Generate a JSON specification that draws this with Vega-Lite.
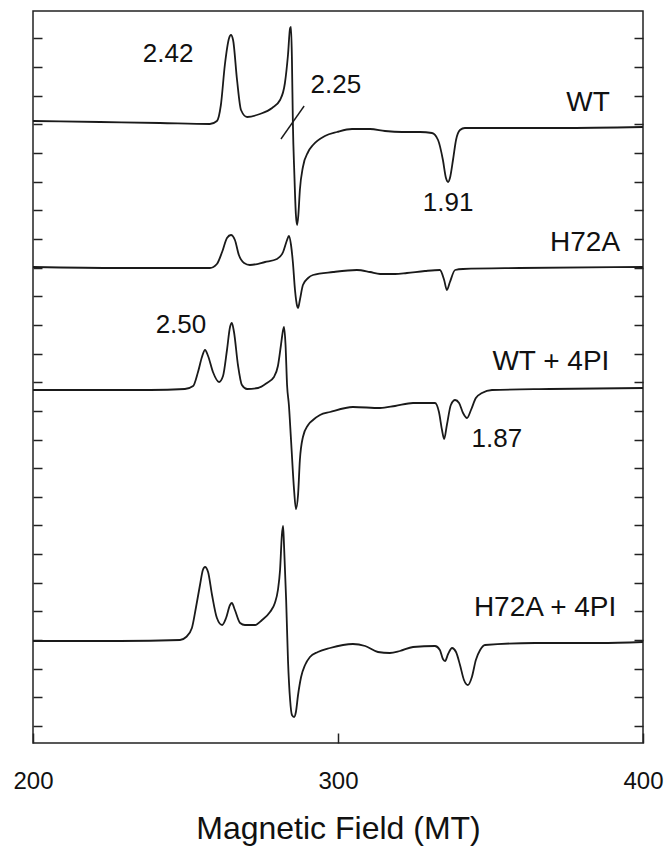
{
  "$schema": "https://vega.github.io/schema/vega-lite/v6.json",
  "width": 610,
  "height": 732,
  "autosize": {"type": "none"},
  "padding": {"left": 33, "top": 11, "right": 27, "bottom": 107},
  "background": "white",
  "config": {
    "view": {"stroke": "#222222", "strokeWidth": 1.5},
    "font": "Liberation Sans",
    "axis": {"grid": false, "domain": false, "tickColor": "#222222", "tickWidth": 1.5}
  },
  "datasets": {
    "spectra": [
      {"sample": "WT", "field": 200, "signal": 622},
      {"sample": "WT", "field": 222, "signal": 621},
      {"sample": "WT", "field": 241.6, "signal": 620},
      {"sample": "WT", "field": 258.0, "signal": 619},
      {"sample": "WT", "field": 260.3, "signal": 622},
      {"sample": "WT", "field": 261.6, "signal": 638},
      {"sample": "WT", "field": 262.9, "signal": 678},
      {"sample": "WT", "field": 264.3, "signal": 705},
      {"sample": "WT", "field": 264.9, "signal": 708},
      {"sample": "WT", "field": 265.6, "signal": 703},
      {"sample": "WT", "field": 266.9, "signal": 663},
      {"sample": "WT", "field": 268.2, "signal": 633},
      {"sample": "WT", "field": 270.2, "signal": 626},
      {"sample": "WT", "field": 274.4, "signal": 629},
      {"sample": "WT", "field": 278.4, "signal": 635},
      {"sample": "WT", "field": 281.0, "signal": 643},
      {"sample": "WT", "field": 282.6, "signal": 660},
      {"sample": "WT", "field": 283.6, "signal": 688},
      {"sample": "WT", "field": 284.3, "signal": 715},
      {"sample": "WT", "field": 284.6, "signal": 716},
      {"sample": "WT", "field": 284.9, "signal": 683},
      {"sample": "WT", "field": 285.2, "signal": 621},
      {"sample": "WT", "field": 285.7, "signal": 568},
      {"sample": "WT", "field": 286.2, "signal": 528},
      {"sample": "WT", "field": 286.6, "signal": 518},
      {"sample": "WT", "field": 287.0, "signal": 528},
      {"sample": "WT", "field": 287.5, "signal": 553},
      {"sample": "WT", "field": 288.5, "signal": 576},
      {"sample": "WT", "field": 290.2, "signal": 591},
      {"sample": "WT", "field": 291.8, "signal": 598},
      {"sample": "WT", "field": 295.7, "signal": 607},
      {"sample": "WT", "field": 299.7, "signal": 611},
      {"sample": "WT", "field": 304.6, "signal": 614},
      {"sample": "WT", "field": 310.5, "signal": 614},
      {"sample": "WT", "field": 315.4, "signal": 612},
      {"sample": "WT", "field": 321.0, "signal": 611},
      {"sample": "WT", "field": 326.9, "signal": 611},
      {"sample": "WT", "field": 330.8, "signal": 610},
      {"sample": "WT", "field": 332.8, "signal": 603},
      {"sample": "WT", "field": 334.4, "signal": 583},
      {"sample": "WT", "field": 335.4, "signal": 565},
      {"sample": "WT", "field": 336.1, "signal": 561},
      {"sample": "WT", "field": 336.7, "signal": 565},
      {"sample": "WT", "field": 337.7, "signal": 583},
      {"sample": "WT", "field": 338.7, "signal": 603},
      {"sample": "WT", "field": 340.0, "signal": 613},
      {"sample": "WT", "field": 341.6, "signal": 615},
      {"sample": "WT", "field": 353.8, "signal": 615},
      {"sample": "WT", "field": 372.8, "signal": 615},
      {"sample": "WT", "field": 400, "signal": 616},

      {"sample": "H72A", "field": 200, "signal": 476},
      {"sample": "H72A", "field": 228.5, "signal": 475},
      {"sample": "H72A", "field": 258.0, "signal": 475},
      {"sample": "H72A", "field": 260.3, "signal": 479},
      {"sample": "H72A", "field": 262.0, "signal": 491},
      {"sample": "H72A", "field": 263.6, "signal": 505},
      {"sample": "H72A", "field": 264.9, "signal": 508},
      {"sample": "H72A", "field": 266.2, "signal": 503},
      {"sample": "H72A", "field": 267.5, "signal": 488},
      {"sample": "H72A", "field": 269.2, "signal": 480},
      {"sample": "H72A", "field": 271.1, "signal": 478},
      {"sample": "H72A", "field": 276.1, "signal": 481},
      {"sample": "H72A", "field": 280.0, "signal": 484},
      {"sample": "H72A", "field": 282.0, "signal": 491},
      {"sample": "H72A", "field": 283.3, "signal": 503},
      {"sample": "H72A", "field": 283.9, "signal": 507},
      {"sample": "H72A", "field": 284.6, "signal": 498},
      {"sample": "H72A", "field": 285.2, "signal": 481},
      {"sample": "H72A", "field": 285.9, "signal": 453},
      {"sample": "H72A", "field": 286.6, "signal": 437},
      {"sample": "H72A", "field": 286.9, "signal": 435},
      {"sample": "H72A", "field": 287.5, "signal": 443},
      {"sample": "H72A", "field": 288.5, "signal": 458},
      {"sample": "H72A", "field": 290.2, "signal": 465},
      {"sample": "H72A", "field": 291.8, "signal": 468},
      {"sample": "H72A", "field": 298.4, "signal": 471},
      {"sample": "H72A", "field": 306.2, "signal": 473},
      {"sample": "H72A", "field": 310.5, "signal": 471},
      {"sample": "H72A", "field": 313.8, "signal": 469},
      {"sample": "H72A", "field": 318.7, "signal": 469},
      {"sample": "H72A", "field": 322.6, "signal": 470},
      {"sample": "H72A", "field": 328.5, "signal": 472},
      {"sample": "H72A", "field": 333.4, "signal": 473},
      {"sample": "H72A", "field": 334.8, "signal": 463},
      {"sample": "H72A", "field": 335.7, "signal": 453},
      {"sample": "H72A", "field": 336.7, "signal": 461},
      {"sample": "H72A", "field": 338.4, "signal": 473},
      {"sample": "H72A", "field": 341.0, "signal": 474},
      {"sample": "H72A", "field": 359.7, "signal": 475},
      {"sample": "H72A", "field": 400, "signal": 476},

      {"sample": "WT + 4PI", "field": 200, "signal": 353},
      {"sample": "WT + 4PI", "field": 238.4, "signal": 353},
      {"sample": "WT + 4PI", "field": 249.8, "signal": 354},
      {"sample": "WT + 4PI", "field": 252.5, "signal": 357},
      {"sample": "WT + 4PI", "field": 254.1, "signal": 371},
      {"sample": "WT + 4PI", "field": 255.4, "signal": 386},
      {"sample": "WT + 4PI", "field": 256.4, "signal": 393},
      {"sample": "WT + 4PI", "field": 257.4, "signal": 387},
      {"sample": "WT + 4PI", "field": 259.0, "signal": 371},
      {"sample": "WT + 4PI", "field": 261.0, "signal": 361},
      {"sample": "WT + 4PI", "field": 262.3, "signal": 367},
      {"sample": "WT + 4PI", "field": 263.6, "signal": 393},
      {"sample": "WT + 4PI", "field": 264.6, "signal": 416},
      {"sample": "WT + 4PI", "field": 265.2, "signal": 420},
      {"sample": "WT + 4PI", "field": 265.9, "signal": 411},
      {"sample": "WT + 4PI", "field": 267.2, "signal": 378},
      {"sample": "WT + 4PI", "field": 268.5, "signal": 358},
      {"sample": "WT + 4PI", "field": 270.2, "signal": 354},
      {"sample": "WT + 4PI", "field": 273.8, "signal": 355},
      {"sample": "WT + 4PI", "field": 276.7, "signal": 360},
      {"sample": "WT + 4PI", "field": 279.0, "signal": 366},
      {"sample": "WT + 4PI", "field": 280.3, "signal": 377},
      {"sample": "WT + 4PI", "field": 281.3, "signal": 398},
      {"sample": "WT + 4PI", "field": 282.0, "signal": 413},
      {"sample": "WT + 4PI", "field": 282.3, "signal": 416},
      {"sample": "WT + 4PI", "field": 282.8, "signal": 398},
      {"sample": "WT + 4PI", "field": 283.3, "signal": 358},
      {"sample": "WT + 4PI", "field": 283.9, "signal": 338},
      {"sample": "WT + 4PI", "field": 284.6, "signal": 303},
      {"sample": "WT + 4PI", "field": 285.6, "signal": 253},
      {"sample": "WT + 4PI", "field": 286.2, "signal": 234},
      {"sample": "WT + 4PI", "field": 286.9, "signal": 248},
      {"sample": "WT + 4PI", "field": 287.5, "signal": 283},
      {"sample": "WT + 4PI", "field": 288.5, "signal": 306},
      {"sample": "WT + 4PI", "field": 290.2, "signal": 318},
      {"sample": "WT + 4PI", "field": 291.8, "signal": 323},
      {"sample": "WT + 4PI", "field": 294.1, "signal": 328},
      {"sample": "WT + 4PI", "field": 297.4, "signal": 331},
      {"sample": "WT + 4PI", "field": 304.9, "signal": 336},
      {"sample": "WT + 4PI", "field": 313.8, "signal": 335},
      {"sample": "WT + 4PI", "field": 318.7, "signal": 337},
      {"sample": "WT + 4PI", "field": 324.6, "signal": 340},
      {"sample": "WT + 4PI", "field": 331.8, "signal": 340},
      {"sample": "WT + 4PI", "field": 333.1, "signal": 331},
      {"sample": "WT + 4PI", "field": 334.1, "signal": 313},
      {"sample": "WT + 4PI", "field": 334.8, "signal": 304},
      {"sample": "WT + 4PI", "field": 335.7, "signal": 318},
      {"sample": "WT + 4PI", "field": 337.0, "signal": 338},
      {"sample": "WT + 4PI", "field": 338.4, "signal": 343},
      {"sample": "WT + 4PI", "field": 339.7, "signal": 340},
      {"sample": "WT + 4PI", "field": 341.0, "signal": 330},
      {"sample": "WT + 4PI", "field": 342.3, "signal": 325},
      {"sample": "WT + 4PI", "field": 343.6, "signal": 333},
      {"sample": "WT + 4PI", "field": 345.2, "signal": 345},
      {"sample": "WT + 4PI", "field": 347.2, "signal": 350},
      {"sample": "WT + 4PI", "field": 350.5, "signal": 353},
      {"sample": "WT + 4PI", "field": 369.5, "signal": 354},
      {"sample": "WT + 4PI", "field": 400, "signal": 355},

      {"sample": "H72A + 4PI", "field": 200, "signal": 102},
      {"sample": "H72A + 4PI", "field": 228.5, "signal": 102},
      {"sample": "H72A + 4PI", "field": 248.2, "signal": 103},
      {"sample": "H72A + 4PI", "field": 250.2, "signal": 106},
      {"sample": "H72A + 4PI", "field": 252.1, "signal": 115},
      {"sample": "H72A + 4PI", "field": 253.4, "signal": 135},
      {"sample": "H72A + 4PI", "field": 254.75, "signal": 158},
      {"sample": "H72A + 4PI", "field": 255.7, "signal": 173},
      {"sample": "H72A + 4PI", "field": 256.4, "signal": 176},
      {"sample": "H72A + 4PI", "field": 257.4, "signal": 171},
      {"sample": "H72A + 4PI", "field": 258.7, "signal": 148},
      {"sample": "H72A + 4PI", "field": 260.3, "signal": 125},
      {"sample": "H72A + 4PI", "field": 262.0, "signal": 118},
      {"sample": "H72A + 4PI", "field": 263.3, "signal": 125},
      {"sample": "H72A + 4PI", "field": 264.6, "signal": 138},
      {"sample": "H72A + 4PI", "field": 265.2, "signal": 140},
      {"sample": "H72A + 4PI", "field": 266.2, "signal": 133},
      {"sample": "H72A + 4PI", "field": 267.9, "signal": 120},
      {"sample": "H72A + 4PI", "field": 269.5, "signal": 118},
      {"sample": "H72A + 4PI", "field": 272.8, "signal": 118},
      {"sample": "H72A + 4PI", "field": 275.1, "signal": 123},
      {"sample": "H72A + 4PI", "field": 277.7, "signal": 131},
      {"sample": "H72A + 4PI", "field": 279.3, "signal": 140},
      {"sample": "H72A + 4PI", "field": 280.3, "signal": 153},
      {"sample": "H72A + 4PI", "field": 281.0, "signal": 173},
      {"sample": "H72A + 4PI", "field": 281.6, "signal": 208},
      {"sample": "H72A + 4PI", "field": 282.0, "signal": 217},
      {"sample": "H72A + 4PI", "field": 282.3, "signal": 198},
      {"sample": "H72A + 4PI", "field": 283.0, "signal": 143},
      {"sample": "H72A + 4PI", "field": 283.6, "signal": 83},
      {"sample": "H72A + 4PI", "field": 284.3, "signal": 43},
      {"sample": "H72A + 4PI", "field": 284.9, "signal": 28},
      {"sample": "H72A + 4PI", "field": 285.6, "signal": 26},
      {"sample": "H72A + 4PI", "field": 286.2, "signal": 31},
      {"sample": "H72A + 4PI", "field": 286.9, "signal": 48},
      {"sample": "H72A + 4PI", "field": 287.9, "signal": 66},
      {"sample": "H72A + 4PI", "field": 289.2, "signal": 78},
      {"sample": "H72A + 4PI", "field": 290.8, "signal": 86},
      {"sample": "H72A + 4PI", "field": 293.4, "signal": 91},
      {"sample": "H72A + 4PI", "field": 297.4, "signal": 95},
      {"sample": "H72A + 4PI", "field": 304.9, "signal": 99},
      {"sample": "H72A + 4PI", "field": 308.9, "signal": 97},
      {"sample": "H72A + 4PI", "field": 313.1, "signal": 91},
      {"sample": "H72A + 4PI", "field": 317.0, "signal": 90},
      {"sample": "H72A + 4PI", "field": 320.3, "signal": 92},
      {"sample": "H72A + 4PI", "field": 324.6, "signal": 96},
      {"sample": "H72A + 4PI", "field": 331.8, "signal": 97},
      {"sample": "H72A + 4PI", "field": 333.4, "signal": 93},
      {"sample": "H72A + 4PI", "field": 334.4, "signal": 84},
      {"sample": "H72A + 4PI", "field": 335.1, "signal": 82},
      {"sample": "H72A + 4PI", "field": 336.1, "signal": 89},
      {"sample": "H72A + 4PI", "field": 337.4, "signal": 95},
      {"sample": "H72A + 4PI", "field": 338.7, "signal": 91},
      {"sample": "H72A + 4PI", "field": 340.0, "signal": 78},
      {"sample": "H72A + 4PI", "field": 341.3, "signal": 63},
      {"sample": "H72A + 4PI", "field": 342.6, "signal": 58},
      {"sample": "H72A + 4PI", "field": 343.9, "signal": 66},
      {"sample": "H72A + 4PI", "field": 345.2, "signal": 83},
      {"sample": "H72A + 4PI", "field": 346.6, "signal": 93},
      {"sample": "H72A + 4PI", "field": 348.2, "signal": 98},
      {"sample": "H72A + 4PI", "field": 364.6, "signal": 100},
      {"sample": "H72A + 4PI", "field": 385.9, "signal": 100},
      {"sample": "H72A + 4PI", "field": 400, "signal": 101}
    ],
    "slash": [
      {"field": 281.3, "signal": 604},
      {"field": 288.9, "signal": 637}
    ],
    "labels": [
      {"kind": "g", "label": "2.42", "field": 244.3, "signal": 689},
      {"kind": "g", "label": "2.25", "field": 299.3, "signal": 658},
      {"kind": "g", "label": "1.91", "field": 336.1, "signal": 540},
      {"kind": "g", "label": "2.50", "field": 248.5, "signal": 418},
      {"kind": "g", "label": "1.87", "field": 352.1, "signal": 304},
      {"kind": "sample", "label": "WT", "field": 382.0, "signal": 640},
      {"kind": "sample", "label": "H72A", "field": 381.0, "signal": 500},
      {"kind": "sample", "label": "WT + 4PI", "field": 369.8, "signal": 381},
      {"kind": "sample", "label": "H72A + 4PI", "field": 367.9, "signal": 135}
    ]
  },
  "layer": [
    {
      "data": {"name": "spectra"},
      "mark": {"type": "line", "color": "#1a1a1a", "strokeWidth": 1.8, "interpolate": "monotone"},
      "encoding": {
        "x": {
          "field": "field", "type": "quantitative",
          "scale": {"domain": [200, 400], "nice": false, "zero": false},
          "axis": {
            "values": [200, 300, 400], "tickSize": -10, "labelFontSize": 24, "labelColor": "#111111",
            "labelPadding": 36, "labelFlush": false,
            "title": "Magnetic Field (MT)", "titleFontSize": 32, "titleFontWeight": "normal",
            "titleColor": "#111111", "titlePadding": 20
          }
        },
        "y": {
          "field": "signal", "type": "quantitative",
          "scale": {"domain": [0, 732], "nice": false, "zero": false},
          "axis": {
            "orient": "left", "title": null, "labels": false, "tickSize": -9,
            "values": [17, 45.65, 74.3, 102.95, 131.6, 160.25, 188.9, 217.55, 246.2, 274.85, 303.5, 332.15, 360.8, 389.45, 418.1, 446.75, 475.4, 504.05, 532.7, 561.35, 590, 618.65, 647.3, 675.95, 704.6]
          }
        },
        "detail": {"field": "sample", "type": "nominal"}
      }
    },
    {
      "data": {"name": "slash"},
      "mark": {"type": "line", "color": "#1a1a1a", "strokeWidth": 1.4},
      "encoding": {
        "x": {"field": "field", "type": "quantitative"},
        "y": {
          "field": "signal", "type": "quantitative",
          "axis": {
            "orient": "right", "title": null, "labels": false, "tickSize": -9,
            "values": [17, 45.65, 74.3, 102.95, 131.6, 160.25, 188.9, 217.55, 246.2, 274.85, 303.5, 332.15, 360.8, 389.45, 418.1, 446.75, 475.4, 504.05, 532.7, 561.35, 590, 618.65, 647.3, 675.95, 704.6]
          }
        }
      }
    },
    {
      "data": {"name": "labels"},
      "transform": [{"filter": "datum.kind == 'g'"}],
      "mark": {"type": "text", "fontSize": 26, "color": "#111111", "align": "center", "baseline": "middle"},
      "encoding": {
        "x": {"field": "field", "type": "quantitative"},
        "y": {"field": "signal", "type": "quantitative", "axis": null},
        "text": {"field": "label"}
      }
    },
    {
      "data": {"name": "labels"},
      "transform": [{"filter": "datum.kind == 'sample'"}],
      "mark": {"type": "text", "fontSize": 28, "color": "#111111", "align": "center", "baseline": "middle"},
      "encoding": {
        "x": {"field": "field", "type": "quantitative"},
        "y": {"field": "signal", "type": "quantitative", "axis": null},
        "text": {"field": "label"}
      }
    }
  ],
  "resolve": {"axis": {"y": "independent"}}
}
